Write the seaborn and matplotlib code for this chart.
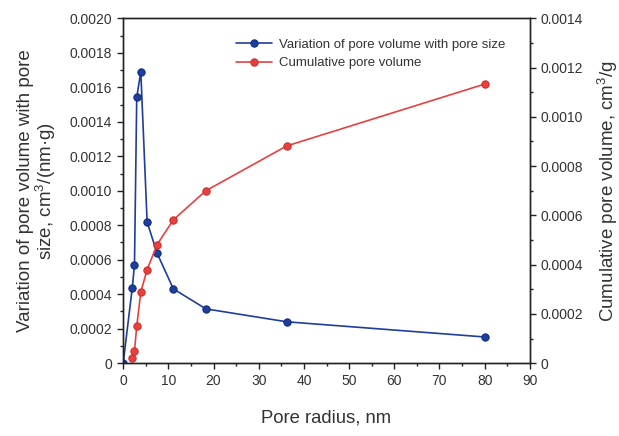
import matplotlib
matplotlib.use("Agg")
import matplotlib.pyplot as plt
import seaborn as sns
import pandas as pd
from matplotlib.ticker import MultipleLocator, FuncFormatter

# pore radius, nm
radius_var = [0, 2.0, 2.5, 3.0, 3.9, 5.3, 7.5, 11.1, 18.3, 36.2, 80.0]
# variation of pore volume with pore size, cm3/(nm g)
dv = [0, 0.000435, 0.000568, 0.001542, 0.00169, 0.000819, 0.000638,
      0.000431, 0.000315, 0.00024, 0.000152]

radius_cum = [2.0, 2.5, 3.0, 3.9, 5.3, 7.5, 11.1, 18.3, 36.2, 80.0]
# cumulative pore volume, cm3/g
cum = [0.00002, 0.00005, 0.00015, 0.000289, 0.00038, 0.000481,
       0.000582, 0.0007, 0.000882, 0.001133]

sns.set_style("ticks")
plt.rcParams['font.family'] = ['Liberation Sans', 'DejaVu Sans']
plt.rcParams['mathtext.fontset'] = 'custom'
plt.rcParams['mathtext.rm'] = 'Liberation Sans'

blue = "#1f3d9c"
red = "#e8403f"

fig = plt.figure(figsize=(6.19, 4.36), dpi=100)
ax = fig.add_axes([0.199, 0.167, 0.657, 0.791])
ax2 = ax.twinx()

df1 = pd.DataFrame({"r": radius_var, "v": dv})
df2 = pd.DataFrame({"r": radius_cum, "v": cum})

sns.lineplot(data=df1, x="r", y="v", ax=ax, color=blue, marker="o",
             markersize=5.3, markeredgecolor="#0d2a80", markeredgewidth=0.7,
             linewidth=1.2, label="Variation of pore volume with pore size",
             legend=False)
sns.lineplot(data=df2, x="r", y="v", ax=ax2, color=red, marker="o",
             markersize=5.3, markeredgecolor="#c82a2a", markeredgewidth=0.7,
             linewidth=1.2, label="Cumulative pore volume", legend=False)

ax.set_xlim(0, 90)
ax.set_ylim(0, 0.002)
ax2.set_ylim(0, 0.0014)

ax.xaxis.set_major_locator(MultipleLocator(10))
ax.xaxis.set_minor_locator(MultipleLocator(5))
ax.yaxis.set_major_locator(MultipleLocator(0.0002))
ax.yaxis.set_minor_locator(MultipleLocator(0.0001))
ax2.yaxis.set_major_locator(MultipleLocator(0.0002))
ax2.yaxis.set_minor_locator(MultipleLocator(0.0001))

fmt = FuncFormatter(lambda v, p: "0" if abs(v) < 1e-12 else f"{v:.4f}")
ax.yaxis.set_major_formatter(fmt)
ax2.yaxis.set_major_formatter(fmt)

for a in (ax, ax2):
    a.tick_params(which="major", direction="out", length=4, width=1,
                  labelsize=10, pad=4, colors="#222222", labelcolor="#333333")
    a.tick_params(which="minor", direction="out", length=2.2, width=1,
                  colors="#222222")
    for s in a.spines.values():
        s.set_color("#222222")
        s.set_linewidth(1.0)

ax.set_xlabel("Pore radius, nm", fontsize=13.3, color="#333333", labelpad=15)
ax.set_ylabel("Variation of pore volume with pore\nsize, cm$^3$/(nm·g)",
              fontsize=13.5, color="#333333", labelpad=8, linespacing=1.0)
ax2.set_ylabel("Cumulative pore volume, cm$^3$/g", fontsize=13.5,
               color="#333333", labelpad=8)

h1, l1 = ax.get_legend_handles_labels()
h2, l2 = ax2.get_legend_handles_labels()
leg = ax.legend(h1 + h2, l1 + l2, loc="upper left",
                bbox_to_anchor=(0.248, 0.975), frameon=False, fontsize=9.5,
                handlelength=2.7, handletextpad=0.6, labelspacing=0.45,
                labelcolor="#333333")

fig.savefig("out.png", dpi=100)
